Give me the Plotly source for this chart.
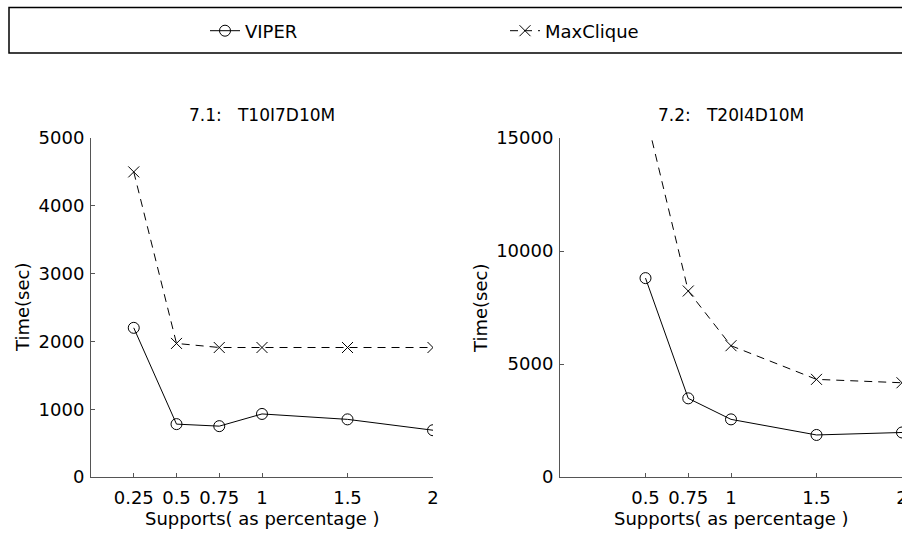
import plotly.graph_objects as go

# ---- data ----
supports_a = [0.25, 0.5, 0.75, 1, 1.5, 2]
viper_a = [2200, 780, 750, 930, 850, 690]
maxclique_a = [4500, 1970, 1910, 1910, 1910, 1910]

supports_b = [0.5, 0.75, 1, 1.5, 2]
viper_b = [8800, 3480, 2550, 1860, 1970]
maxclique_b = [16100, 8230, 5810, 4320, 4170]

tick_a = ["0.25", "0.5", "0.75", "1", "1.5", "2"]
tick_b = ["0.5", "0.75", "1", "1.5", "2"]
yticks_a = [0, 1000, 2000, 3000, 4000, 5000]
yticks_b = [0, 5000, 10000, 15000]
title_a = "7.1:\u00a0\u00a0\u00a0T10I7D10M"
title_b = "7.2:\u00a0\u00a0\u00a0T20I4D10M"

W, H = 902, 536
FONT = "DejaVu Sans"

fig = go.Figure()

line_viper = dict(color="black", width=1)
line_mc = dict(color="black", width=1, dash="8px,6px")
mk_viper = dict(symbol="circle-open", size=11, color="black", line=dict(width=1, color="black"))
mk_mc = dict(symbol="x-thin-open", size=11, color="black", line=dict(width=1, color="black"))

fig.add_trace(go.Scatter(x=supports_a, y=viper_a, mode="lines+markers", name="VIPER",
                         line=line_viper, marker=mk_viper, xaxis="x", yaxis="y"))
fig.add_trace(go.Scatter(x=supports_a, y=maxclique_a, mode="lines+markers", name="MaxClique",
                         line=line_mc, marker=mk_mc, xaxis="x", yaxis="y"))
fig.add_trace(go.Scatter(x=supports_b, y=viper_b, mode="lines+markers", name="VIPER",
                         line=line_viper, marker=mk_viper, xaxis="x2", yaxis="y2", showlegend=False))
fig.add_trace(go.Scatter(x=supports_b, y=maxclique_b, mode="lines+markers", name="MaxClique",
                         line=line_mc, marker=mk_mc, xaxis="x2", yaxis="y2", showlegend=False))

ydom = [(H - 477) / H, (H - 138) / H]
axis_common = dict(showline=True, linecolor="#555555", linewidth=1, ticks="inside",
                   ticklen=4, tickcolor="#555555", showgrid=False, zeroline=False,
                   automargin=False, ticklabeloverflow="allow",
                   tickfont=dict(family=FONT, size=18, color="black"))

fig.update_layout(
    width=W, height=H,
    margin=dict(l=0, r=0, t=0, b=0, pad=0, autoexpand=False),
    paper_bgcolor="white", plot_bgcolor="white",
    font=dict(family=FONT, size=18, color="black"),
    xaxis=dict(domain=[91 / W, 433 / W], range=[0, 2], tickvals=supports_a, ticktext=tick_a,
               anchor="y", ticklabelstandoff=4, **axis_common),
    yaxis=dict(domain=ydom, range=[0, 5000], tickvals=yticks_a,
               ticktext=[str(v) for v in yticks_a], anchor="x", ticklabelstandoff=2,
               **axis_common),
    xaxis2=dict(domain=[560 / W, 1.0], range=[0, 2], tickvals=supports_b, ticktext=tick_b,
                anchor="y2", ticklabelstandoff=4, **axis_common),
    yaxis2=dict(domain=ydom, range=[0, 15000], tickvals=yticks_b,
                ticktext=[str(v) for v in yticks_b], anchor="x2", ticklabelstandoff=2,
                **axis_common),
    showlegend=True,
    legend=dict(orientation="h", x=205 / W, xanchor="left", y=1 - 31 / H, yanchor="middle",
                bgcolor="rgba(0,0,0,0)", borderwidth=0, entrywidth=255, entrywidthmode="pixels",
                font=dict(family=FONT, size=18, color="black")),
    shapes=[dict(type="rect", xref="paper", yref="paper", x0=9 / W, x1=1.02,
                 y0=1 - 53 / H, y1=1 - 7.5 / H, line=dict(color="black", width=1.5))],
)

ann = []
for cx, t in [((91 + 433) / 2, title_a), ((560 + 902) / 2, title_b)]:
    ann.append(dict(text=t, x=cx / W, y=1 - 115 / H, xref="paper", yref="paper",
                    xanchor="center", yanchor="middle", showarrow=False,
                    font=dict(family=FONT, size=17, color="black")))
    ann.append(dict(text="Supports( as percentage )", x=cx / W, y=1 - 518 / H, xref="paper",
                    yref="paper", xanchor="center", yanchor="middle", showarrow=False,
                    font=dict(family=FONT, size=18, color="black")))
for cx in [22, 480]:
    ann.append(dict(text="Time(sec)", x=cx / W, y=1 - 308 / H, xref="paper", yref="paper",
                    xanchor="center", yanchor="middle", showarrow=False, textangle=-90,
                    font=dict(family=FONT, size=18, color="black")))
fig.update_layout(annotations=ann)

post = ("document.documentElement.style.margin='0';document.body.style.margin='0';"
        "document.body.style.overflow='hidden';"
        "var gd=document.getElementById('{plot_id}');gd.style.position='absolute';"
        "gd.style.left='0px';gd.style.top='0px';")

fig.write_html("out.html", post_script=post, config={"displayModeBar": False})
